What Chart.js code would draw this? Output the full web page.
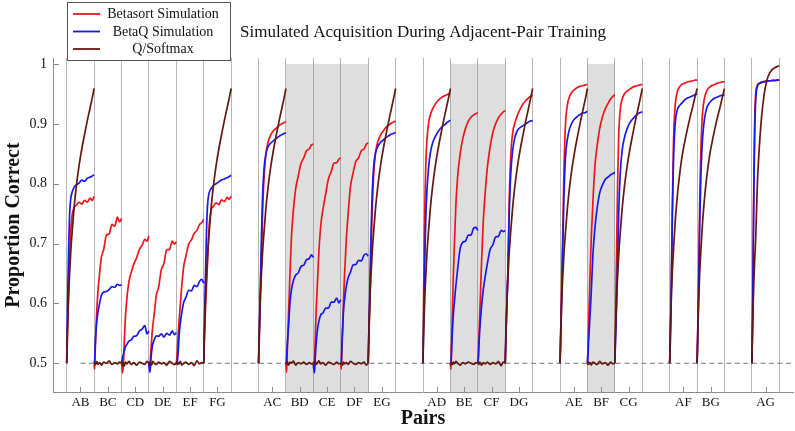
<!DOCTYPE html>
<html>
<head>
<meta charset="utf-8">
<title>Simulated Acquisition During Adjacent-Pair Training</title>
<script src="https://cdn.jsdelivr.net/npm/chart.js@4.4.1/dist/chart.umd.min.js"></script>
<style>
  html, body { margin: 0; padding: 0; background: #fff; }
</style>
</head>
<body>
<canvas id="acqChart" width="795" height="431"></canvas>
<script>
// x slots: one per pair, empty string = blank spacer slot
const slotLabels = ['AB', 'BC', 'CD', 'DE', 'EF', 'FG', '',
  'AC', 'BD', 'CE', 'DF', 'EG', '',
  'AD', 'BE', 'CF', 'DG', '',
  'AE', 'BF', 'CG', '',
  'AF', 'BG', '',
  'AG'];
const pairs = slotLabels.filter(s => s !== '');
const shadedPairs = ['BD', 'CE', 'DF', 'BE', 'CF', 'BF'];

// where each sample sits inside its pair's slot (0 = start, 1 = end)
const trialPos = [0, 0.02, 0.04, 0.07, 0.1, 0.14, 0.2, 0.27, 0.35, 0.45, 0.55, 0.65, 0.75, 0.85, 0.93, 1];

const yTicks = [0.5, 0.6, 0.7, 0.8, 0.9, 1];
const chanceLevel = 0.5;

// one row per pair, same order as `pairs`
const betasort = [
  [0.5, 0.53, 0.565, 0.62, 0.665, 0.715, 0.748, 0.76, 0.764, 0.769, 0.766, 0.772, 0.769, 0.776, 0.772, 0.779], // AB
  [0.497, 0.49, 0.52, 0.56, 0.59, 0.62, 0.65, 0.678, 0.69, 0.714, 0.716, 0.732, 0.729, 0.744, 0.736, 0.742], // BC
  [0.5, 0.492, 0.484, 0.5, 0.535, 0.575, 0.61, 0.636, 0.651, 0.666, 0.676, 0.69, 0.697, 0.707, 0.704, 0.713], // CD
  [0.5, 0.492, 0.498, 0.52, 0.54, 0.562, 0.585, 0.614, 0.626, 0.656, 0.667, 0.69, 0.69, 0.704, 0.699, 0.703], // DE
  [0.5, 0.51, 0.525, 0.55, 0.57, 0.595, 0.63, 0.662, 0.679, 0.699, 0.706, 0.717, 0.722, 0.732, 0.735, 0.741], // EF
  [0.5, 0.53, 0.56, 0.6, 0.63, 0.67, 0.73, 0.756, 0.762, 0.768, 0.765, 0.773, 0.77, 0.777, 0.774, 0.779], // FG
  [0.5, 0.53, 0.56, 0.615, 0.66, 0.74, 0.81, 0.85, 0.87, 0.882, 0.889, 0.893, 0.897, 0.9, 0.902, 0.904], // AC
  [0.5, 0.485, 0.51, 0.55, 0.59, 0.64, 0.71, 0.755, 0.79, 0.813, 0.834, 0.843, 0.855, 0.858, 0.865, 0.866], // BD
  [0.5, 0.49, 0.505, 0.54, 0.585, 0.625, 0.685, 0.73, 0.757, 0.783, 0.808, 0.82, 0.834, 0.835, 0.841, 0.843], // CE
  [0.5, 0.49, 0.52, 0.56, 0.605, 0.65, 0.705, 0.75, 0.794, 0.818, 0.837, 0.843, 0.855, 0.858, 0.866, 0.868], // DF
  [0.5, 0.53, 0.565, 0.62, 0.67, 0.745, 0.815, 0.852, 0.87, 0.881, 0.888, 0.894, 0.898, 0.901, 0.903, 0.905], // EG
  [0.5, 0.6, 0.68, 0.77, 0.83, 0.87, 0.9, 0.915, 0.925, 0.933, 0.939, 0.943, 0.946, 0.948, 0.95, 0.951], // AD
  [0.5, 0.49, 0.53, 0.58, 0.635, 0.69, 0.765, 0.815, 0.848, 0.875, 0.892, 0.904, 0.911, 0.915, 0.917, 0.919], // BE
  [0.5, 0.51, 0.54, 0.58, 0.62, 0.672, 0.738, 0.785, 0.828, 0.862, 0.886, 0.9, 0.91, 0.916, 0.92, 0.922], // CF
  [0.5, 0.53, 0.57, 0.61, 0.66, 0.76, 0.845, 0.885, 0.901, 0.915, 0.925, 0.933, 0.939, 0.943, 0.946, 0.948], // DG
  [0.5, 0.54, 0.59, 0.66, 0.72, 0.815, 0.9, 0.932, 0.946, 0.954, 0.958, 0.961, 0.963, 0.964, 0.965, 0.966], // AE
  [0.5, 0.525, 0.56, 0.61, 0.655, 0.71, 0.77, 0.828, 0.862, 0.893, 0.912, 0.925, 0.934, 0.942, 0.946, 0.949], // BF
  [0.5, 0.56, 0.62, 0.71, 0.8, 0.88, 0.925, 0.942, 0.95, 0.955, 0.958, 0.961, 0.963, 0.964, 0.965, 0.966], // CG
  [0.5, 0.53, 0.58, 0.67, 0.77, 0.87, 0.93, 0.952, 0.961, 0.966, 0.968, 0.97, 0.971, 0.972, 0.973, 0.973], // AF
  [0.5, 0.54, 0.6, 0.69, 0.78, 0.86, 0.918, 0.943, 0.955, 0.961, 0.964, 0.966, 0.968, 0.969, 0.97, 0.97], // BG
  [0.5, 0.56, 0.66, 0.8, 0.9, 0.95, 0.965, 0.968, 0.97, 0.971, 0.972, 0.972, 0.973, 0.973, 0.973, 0.973]  // AG
];

const betaQ = [
  [0.5, 0.56, 0.62, 0.69, 0.74, 0.772, 0.786, 0.794, 0.798, 0.801, 0.806, 0.804, 0.809, 0.811, 0.813, 0.815], // AB
  [0.5, 0.505, 0.53, 0.555, 0.57, 0.585, 0.6, 0.614, 0.619, 0.62, 0.623, 0.628, 0.627, 0.632, 0.63, 0.631], // BC
  [0.5, 0.505, 0.51, 0.515, 0.52, 0.527, 0.532, 0.537, 0.539, 0.545, 0.546, 0.554, 0.557, 0.563, 0.549, 0.554], // CD
  [0.5, 0.488, 0.485, 0.505, 0.52, 0.532, 0.54, 0.546, 0.545, 0.549, 0.544, 0.55, 0.547, 0.554, 0.548, 0.551], // DE
  [0.5, 0.5, 0.505, 0.52, 0.545, 0.565, 0.585, 0.602, 0.61, 0.622, 0.621, 0.63, 0.628, 0.637, 0.64, 0.634], // EF
  [0.5, 0.55, 0.6, 0.66, 0.72, 0.765, 0.785, 0.792, 0.797, 0.8, 0.803, 0.806, 0.808, 0.81, 0.812, 0.814], // FG
  [0.5, 0.54, 0.58, 0.64, 0.7, 0.77, 0.825, 0.85, 0.862, 0.868, 0.872, 0.876, 0.879, 0.882, 0.884, 0.885], // AC
  [0.5, 0.505, 0.525, 0.545, 0.565, 0.598, 0.623, 0.638, 0.647, 0.651, 0.662, 0.664, 0.673, 0.675, 0.681, 0.677], // BD
  [0.5, 0.488, 0.484, 0.51, 0.532, 0.552, 0.57, 0.581, 0.584, 0.592, 0.592, 0.602, 0.602, 0.609, 0.601, 0.606], // CE
  [0.5, 0.5, 0.53, 0.56, 0.588, 0.608, 0.628, 0.643, 0.652, 0.664, 0.665, 0.672, 0.671, 0.681, 0.683, 0.679], // DF
  [0.5, 0.54, 0.585, 0.65, 0.71, 0.775, 0.828, 0.852, 0.862, 0.869, 0.873, 0.877, 0.88, 0.883, 0.884, 0.886], // EG
  [0.5, 0.56, 0.61, 0.68, 0.74, 0.785, 0.825, 0.852, 0.868, 0.879, 0.887, 0.893, 0.897, 0.901, 0.904, 0.906], // AD
  [0.5, 0.5, 0.52, 0.55, 0.577, 0.6, 0.63, 0.66, 0.69, 0.702, 0.704, 0.714, 0.714, 0.726, 0.727, 0.722], // BE
  [0.5, 0.51, 0.53, 0.555, 0.575, 0.597, 0.623, 0.645, 0.667, 0.69, 0.698, 0.711, 0.712, 0.722, 0.72, 0.722], // CF
  [0.5, 0.53, 0.565, 0.61, 0.66, 0.74, 0.815, 0.855, 0.877, 0.889, 0.894, 0.897, 0.9, 0.903, 0.905, 0.905], // DG
  [0.5, 0.53, 0.57, 0.63, 0.69, 0.775, 0.845, 0.875, 0.892, 0.903, 0.909, 0.913, 0.916, 0.918, 0.919, 0.921], // AE
  [0.5, 0.515, 0.535, 0.56, 0.585, 0.62, 0.682, 0.725, 0.758, 0.785, 0.798, 0.807, 0.811, 0.815, 0.817, 0.819], // BF
  [0.5, 0.53, 0.56, 0.61, 0.67, 0.75, 0.82, 0.857, 0.877, 0.892, 0.902, 0.908, 0.913, 0.917, 0.919, 0.92], // CG
  [0.5, 0.53, 0.575, 0.66, 0.75, 0.84, 0.9, 0.922, 0.93, 0.935, 0.94, 0.943, 0.945, 0.947, 0.949, 0.95], // AF
  [0.5, 0.53, 0.57, 0.66, 0.74, 0.815, 0.875, 0.908, 0.926, 0.935, 0.94, 0.943, 0.945, 0.947, 0.948, 0.949], // BG
  [0.5, 0.55, 0.64, 0.78, 0.88, 0.94, 0.962, 0.967, 0.969, 0.97, 0.971, 0.972, 0.972, 0.972, 0.973, 0.973]  // AG
];

const qSoftmax = [
  [0.5, 0.545, 0.575, 0.615, 0.645, 0.68, 0.72, 0.76, 0.795, 0.83, 0.858, 0.882, 0.905, 0.926, 0.943, 0.959], // AB
  [0.5, 0.497, 0.502, 0.499, 0.503, 0.498, 0.501, 0.497, 0.502, 0.5, 0.504, 0.498, 0.501, 0.499, 0.502, 0.5], // BC
  [0.5, 0.503, 0.497, 0.501, 0.495, 0.502, 0.499, 0.503, 0.498, 0.501, 0.497, 0.502, 0.5, 0.498, 0.503, 0.5], // CD
  [0.5, 0.498, 0.502, 0.5, 0.497, 0.503, 0.5, 0.498, 0.502, 0.499, 0.501, 0.497, 0.503, 0.5, 0.498, 0.5], // DE
  [0.5, 0.502, 0.498, 0.501, 0.499, 0.503, 0.497, 0.5, 0.502, 0.498, 0.501, 0.496, 0.504, 0.499, 0.501, 0.5], // EF
  [0.5, 0.545, 0.575, 0.615, 0.645, 0.68, 0.72, 0.76, 0.795, 0.83, 0.858, 0.882, 0.905, 0.926, 0.943, 0.959], // FG
  [0.5, 0.545, 0.575, 0.615, 0.645, 0.68, 0.72, 0.76, 0.795, 0.83, 0.858, 0.882, 0.905, 0.926, 0.943, 0.959], // AC
  [0.5, 0.498, 0.503, 0.499, 0.497, 0.502, 0.5, 0.504, 0.497, 0.501, 0.499, 0.502, 0.498, 0.501, 0.499, 0.5], // BD
  [0.5, 0.502, 0.499, 0.503, 0.498, 0.5, 0.504, 0.499, 0.501, 0.497, 0.502, 0.5, 0.498, 0.502, 0.499, 0.5], // CE
  [0.5, 0.499, 0.501, 0.497, 0.502, 0.499, 0.501, 0.498, 0.503, 0.5, 0.498, 0.501, 0.499, 0.502, 0.497, 0.5], // DF
  [0.5, 0.545, 0.575, 0.615, 0.645, 0.68, 0.72, 0.76, 0.795, 0.83, 0.858, 0.882, 0.905, 0.926, 0.943, 0.959], // EG
  [0.5, 0.545, 0.575, 0.615, 0.645, 0.68, 0.72, 0.76, 0.795, 0.83, 0.858, 0.882, 0.905, 0.926, 0.943, 0.959], // AD
  [0.5, 0.497, 0.501, 0.498, 0.502, 0.499, 0.503, 0.5, 0.497, 0.501, 0.499, 0.502, 0.5, 0.498, 0.501, 0.5], // BE
  [0.5, 0.501, 0.498, 0.502, 0.5, 0.497, 0.501, 0.499, 0.502, 0.498, 0.501, 0.499, 0.503, 0.496, 0.502, 0.5], // CF
  [0.5, 0.545, 0.575, 0.615, 0.645, 0.68, 0.72, 0.76, 0.795, 0.83, 0.858, 0.882, 0.905, 0.926, 0.943, 0.959], // DG
  [0.5, 0.545, 0.575, 0.615, 0.645, 0.68, 0.72, 0.76, 0.795, 0.83, 0.858, 0.882, 0.905, 0.926, 0.943, 0.959], // AE
  [0.5, 0.498, 0.502, 0.499, 0.501, 0.497, 0.502, 0.5, 0.498, 0.503, 0.499, 0.501, 0.497, 0.502, 0.499, 0.5], // BF
  [0.5, 0.545, 0.575, 0.615, 0.645, 0.68, 0.72, 0.76, 0.795, 0.83, 0.858, 0.882, 0.905, 0.926, 0.943, 0.959], // CG
  [0.5, 0.545, 0.58, 0.62, 0.655, 0.69, 0.735, 0.775, 0.81, 0.845, 0.87, 0.892, 0.912, 0.93, 0.946, 0.959], // AF
  [0.5, 0.545, 0.58, 0.62, 0.655, 0.69, 0.735, 0.775, 0.81, 0.845, 0.87, 0.892, 0.912, 0.93, 0.946, 0.959], // BG
  [0.5, 0.55, 0.59, 0.635, 0.67, 0.71, 0.8, 0.86, 0.91, 0.95, 0.973, 0.985, 0.991, 0.994, 0.996, 0.997]  // AG
];

const serif = '"Liberation Serif", "Times New Roman", serif';
const redColor = 'rgb(236, 22, 26)';
const blueColor = 'rgb(24, 24, 236)';
const brownColor = 'rgb(100, 24, 14)';
const axisGrey = '#8c8c8c';

function buildSeries(values) {
  const pts = [];
  pairs.forEach((pair, i) => {
    const slot = slotLabels.indexOf(pair);
    trialPos.forEach((t, j) => pts.push({ x: slot + t, y: values[i][j] }));
    pts.push({ x: slot + 1, y: null }); // break the line between pairs
  });
  return pts;
}

// grey bands behind the shaded pairs (drawn before the grid so grid lines stay visible)
const shading = {
  id: 'shading',
  beforeDraw(chart) {
    const { ctx, scales: { x, y } } = chart;
    ctx.save();
    ctx.fillStyle = '#dedede';
    shadedPairs.forEach(p => {
      const slot = slotLabels.indexOf(p);
      const l = x.getPixelForValue(slot);
      const r = x.getPixelForValue(slot + 1);
      const top = y.getPixelForValue(1);
      ctx.fillRect(l, top, r - l, y.bottom - top);
    });
    ctx.restore();
  }
};

// short inward tick marks like pgfplots (only under real pairs)
const innerTicks = {
  id: 'innerTicks',
  beforeDatasetsDraw(chart) {
    const { ctx, scales: { x, y } } = chart;
    ctx.save();
    ctx.strokeStyle = axisGrey;
    ctx.lineWidth = 1;
    ctx.beginPath();
    pairs.forEach(p => {
      const px = Math.round(x.getPixelForValue(slotLabels.indexOf(p) + 0.5)) + 0.5;
      ctx.moveTo(px, y.bottom);
      ctx.lineTo(px, y.bottom - 5);
    });
    yTicks.forEach(v => {
      const py = Math.round(y.getPixelForValue(v)) + 0.5;
      ctx.moveTo(x.left, py);
      ctx.lineTo(x.left + 6, py);
    });
    ctx.stroke();
    ctx.restore();
  }
};

// boxed legend in the top-left corner
const boxLegend = {
  id: 'boxLegend',
  afterDraw(chart) {
    const { ctx } = chart;
    const items = chart.data.datasets.filter(d => d.label);
    ctx.save();
    ctx.fillStyle = '#fff';
    ctx.strokeStyle = '#555';
    ctx.lineWidth = 1;
    ctx.fillRect(67.5, 2.5, 163, 58);
    ctx.strokeRect(67.5, 2.5, 163, 58);
    ctx.font = '14px ' + serif;
    ctx.textAlign = 'center';
    ctx.textBaseline = 'middle';
    items.forEach((d, i) => {
      const rowY = 14 + i * 17.5;
      ctx.strokeStyle = d.borderColor;
      ctx.lineWidth = 1.8;
      ctx.beginPath();
      ctx.moveTo(73, rowY);
      ctx.lineTo(100, rowY);
      ctx.stroke();
      ctx.fillStyle = '#111';
      ctx.fillText(d.label, 163, rowY + 0.5);
    });
    ctx.restore();
  }
};

new Chart(document.getElementById('acqChart'), {
  type: 'line',
  data: {
    datasets: [
      { label: 'Betasort Simulation', data: buildSeries(betasort), borderColor: redColor, order: 2 },
      { label: 'BetaQ Simulation', data: buildSeries(betaQ), borderColor: blueColor, order: 1 },
      { label: 'Q/Softmax', data: buildSeries(qSoftmax), borderColor: brownColor, order: 0 },
      {
        label: '',
        data: [{ x: 0.5, y: chanceLevel }, { x: slotLabels.length + 0.5, y: chanceLevel }],
        borderColor: '#777', borderWidth: 1, borderDash: [5, 3.5], order: 3
      }
    ]
  },
  options: {
    responsive: false,
    animation: false,
    devicePixelRatio: 1,
    spanGaps: false,
    layout: { padding: { left: 0, right: 2, top: 0, bottom: 0 } },
    elements: {
      point: { radius: 0 },
      line: { borderWidth: 1.7, cubicInterpolationMode: 'monotone' }
    },
    plugins: {
      legend: { display: false },
      tooltip: { enabled: false },
      title: {
        display: true,
        fullSize: false,
        text: 'Simulated Acquisition During Adjacent-Pair Training',
        color: '#111',
        font: { family: serif, size: 17, weight: 'normal' },
        padding: { top: 22.8, bottom: 14.8 }
      }
    },
    scales: {
      x: {
        type: 'linear',
        min: -0.5,
        max: slotLabels.length + 0.5,
        afterBuildTicks: s => {
          const t = [];
          for (let k = 0; k <= slotLabels.length * 2; k++) t.push({ value: k / 2 });
          s.ticks = t;
        },
        afterFit: s => { s.height = 39; },
        ticks: {
          autoSkip: false,
          maxRotation: 0,
          minRotation: 0,
          padding: 3,
          color: '#111',
          font: { family: serif, size: 13 },
          callback: v => (v % 1 === 0.5 ? slotLabels[Math.floor(v)] : '')
        },
        grid: {
          drawTicks: false,
          lineWidth: 1,
          color: c => (c.tick && Number.isInteger(c.tick.value) ? 'rgba(110,110,110,0.5)' : 'rgba(0,0,0,0)')
        },
        border: { color: axisGrey },
        title: {
          display: true,
          text: 'Pairs',
          color: '#111',
          font: { family: serif, size: 20, weight: 'bold' },
          padding: { top: 0, bottom: 0 }
        }
      },
      y: {
        min: 0.452,
        max: 1.01,
        afterBuildTicks: s => { s.ticks = yTicks.map(v => ({ value: v })); },
        afterFit: s => { s.width = 53; },
        ticks: {
          padding: 6,
          color: '#111',
          font: { family: serif, size: 14 },
          callback: v => (v === 1 ? '1' : v.toFixed(1))
        },
        grid: { display: false, drawTicks: false },
        border: { color: axisGrey },
        title: {
          display: true,
          text: 'Proportion Correct',
          color: '#111',
          font: { family: serif, size: 20, weight: 'bold' },
          padding: { top: 2, bottom: 0 }
        }
      }
    }
  },
  plugins: [shading, innerTicks, boxLegend]
});
</script>
</body>
</html>
